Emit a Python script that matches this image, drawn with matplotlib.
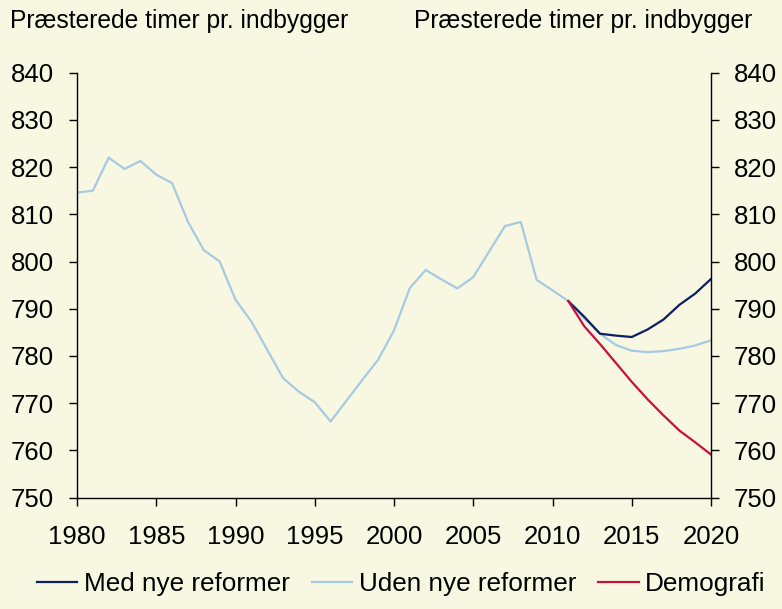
import numpy as np
import matplotlib.pyplot as plt

plt.rcParams['font.family'] = ['Liberation Sans', 'DejaVu Sans']

years_hist = np.arange(1980, 2021)
uden = [814.6, 815.0, 822.0, 819.6, 821.3, 818.4, 816.6, 808.4, 802.4, 800.0,
        791.9, 787.3, 781.3, 775.3, 772.4, 770.2, 766.1, 770.5, 774.9, 779.2,
        785.4, 794.4, 798.2, 796.2, 794.3, 796.7, 802.1, 807.5, 808.4, 796.1,
        793.9, 791.6, 787.9, 784.7, 782.3, 781.1, 780.8, 781.0, 781.5, 782.2,
        783.3]
years_proj = np.arange(2011, 2021)
med = [791.6, 788.3, 784.7, 784.3, 784.0, 785.6, 787.7, 790.8, 793.2, 796.3]
demografi = [791.6, 786.3, 782.5, 778.5, 774.5, 770.8, 767.4, 764.2, 761.7, 759.1]

title = "Præsterede timer pr. indbygger"
bg = '#F8F7E1'
c_med = '#0B1F63'
c_uden = '#A6CAE2'
c_demo = '#C8103F'

fig = plt.figure(figsize=(7.82, 6.09), dpi=100, facecolor=bg)
ax = fig.add_axes([77 / 782, 1 - 497.5 / 609, 634 / 782, 424.8 / 609])
ax.set_facecolor(bg)

l2, = ax.plot(years_hist, uden, color=c_uden, lw=1.6, label='Uden nye reformer')
l1, = ax.plot(years_proj, med, color=c_med, lw=1.6, label='Med nye reformer')
l3, = ax.plot(years_proj, demografi, color=c_demo, lw=1.6, label='Demografi')

ax.set_xlim(1980, 2020)
ax.set_ylim(750, 840)
ax.set_xticks(np.arange(1980, 2021, 5))
ax.set_yticks(np.arange(750, 841, 10))
ax.tick_params(axis='both', labelsize=18.5, length=5.5, width=1, direction='out')
ax.tick_params(axis='y', right=True, labelright=True, pad=11)
ax.tick_params(axis='x', pad=14)
ax.spines['top'].set_visible(False)
for s in ['left', 'right', 'bottom']:
    ax.spines[s].set_linewidth(1)

fig.text(10 / 782, 1 - 21 / 609, title, fontsize=17.7, va='center', ha='left')
fig.text(414 / 782, 1 - 21 / 609, title, fontsize=17.7, va='center', ha='left')

fig.legend(handles=[l1, l2, l3], loc='center', bbox_to_anchor=(0.513, 1 - 584 / 609),
           ncol=3, frameon=False, fontsize=18.8, handlelength=1.55,
           handletextpad=0.25, columnspacing=0.85)

fig.savefig('out.png', dpi=100, facecolor=bg)
